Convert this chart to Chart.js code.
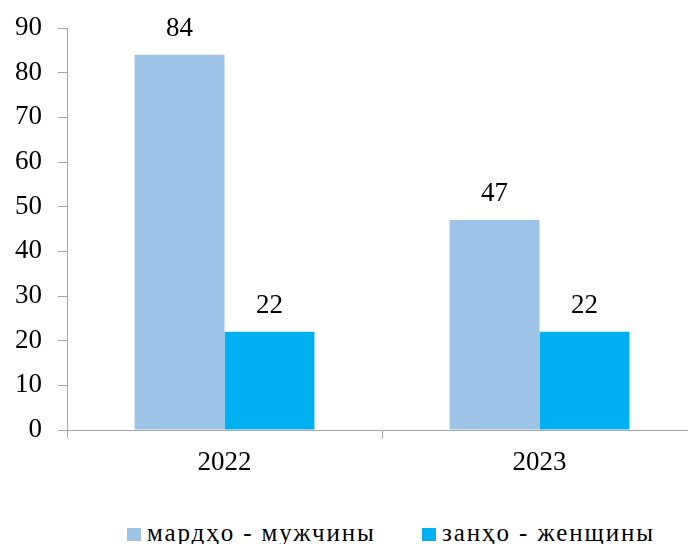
<!DOCTYPE html>
<html>
<head>
<meta charset="utf-8">
<script src="https://cdn.jsdelivr.net/npm/chart.js@4"></script>
<style>
html,body{margin:0;padding:0;overflow:hidden;background:#fff;width:688px;height:544px;}
#wrap{position:absolute;left:0;top:0;width:697px;height:470px;}
#legend{position:absolute;left:0;top:515px;width:688px;height:36px;font-family:"Times New Roman","Liberation Serif","DejaVu Serif",serif;font-size:25px;letter-spacing:1.9px;color:#000;}
.item{position:absolute;top:0;height:36px;line-height:36px;white-space:nowrap;}
.sw{display:inline-block;width:14px;height:13px;margin-right:6px;vertical-align:middle;position:relative;top:-1px;}
</style>
</head>
<body>
<div id="wrap"><canvas id="c" width="697" height="470"></canvas></div>
<div id="legend"></div>
<script>
const categories = ["2022", "2023"];
const menValues = [84, 47];
const womenValues = [22, 22];
const seriesNames = ["мардҳо - мужчины", "занҳо - женщины"];
const yTicks = [0, 10, 20, 30, 40, 50, 60, 70, 80, 90];
const colors = ["#9DC3E6", "#00B0F0"];

const FONT = "'Times New Roman', 'Liberation Serif', 'DejaVu Serif', serif";

const valueLabels = {
  id: "valueLabels",
  afterDatasetsDraw(chart) {
    const ctx = chart.ctx;
    ctx.save();
    ctx.font = "27px " + FONT;
    ctx.fillStyle = "#000";
    ctx.textAlign = "center";
    ctx.textBaseline = "middle";
    chart.data.datasets.forEach((ds, i) => {
      chart.getDatasetMeta(i).data.forEach((bar, j) => {
        ctx.fillText(String(ds.data[j]), bar.x, bar.y - 26);
      });
    });
    ctx.restore();
  }
};

new Chart(document.getElementById("c"), {
  type: "bar",
  data: {
    labels: categories,
    datasets: [
      { label: seriesNames[0], data: menValues, backgroundColor: colors[0] },
      { label: seriesNames[1], data: womenValues, backgroundColor: colors[1] }
    ]
  },
  options: {
    responsive: false,
    animation: false,
    devicePixelRatio: 1,
    layout: { padding: { top: 28, right: 0, left: 0, bottom: 0 } },
    datasets: { bar: { categoryPercentage: 0.571, barPercentage: 1.0 } },
    plugins: { legend: { display: false }, tooltip: { enabled: false } },
    scales: {
      x: {
        grid: { drawOnChartArea: false, drawTicks: true, tickLength: 8, color: "#A6A6A6", offset: true },
        border: { display: true, color: "#A6A6A6", width: 1 },
        ticks: { color: "#000", font: { family: FONT, size: 27 }, padding: 9, maxRotation: 0 },
        afterFit(s) { s.height = 40; }
      },
      y: {
        min: 0, max: 90,
        afterBuildTicks(s) { s.ticks = yTicks.map(v => ({ value: v })); },
        grid: { drawOnChartArea: false, drawTicks: true, tickLength: 9, color: "#A6A6A6" },
        border: { display: true, color: "#A6A6A6", width: 1 },
        ticks: { color: "#000", font: { family: FONT, size: 27 }, padding: 16 },
        afterFit(s) { s.width = 67; s.paddingTop = 0; s.paddingBottom = 0; }
      }
    }
  },
  plugins: [valueLabels]
});

const legend = document.getElementById("legend");
const lefts = [127, 422];
seriesNames.forEach((n, i) => {
  const d = document.createElement("div");
  d.className = "item";
  d.style.left = lefts[i] + "px";
  const sw = document.createElement("span");
  sw.className = "sw";
  sw.style.background = colors[i];
  d.appendChild(sw);
  d.appendChild(document.createTextNode(n));
  legend.appendChild(d);
});
</script>
</body>
</html>
